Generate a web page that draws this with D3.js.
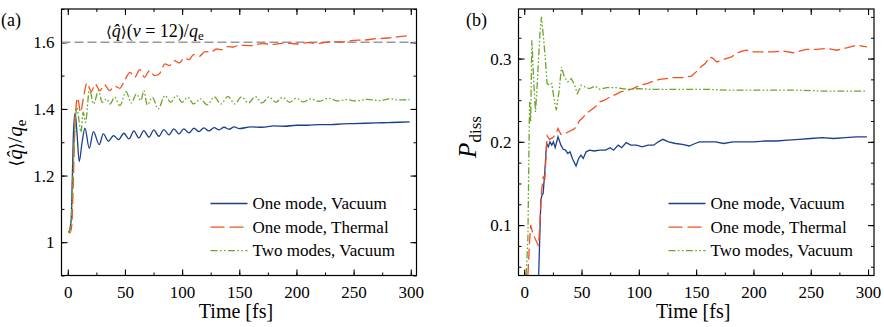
<!DOCTYPE html>
<html>
<head>
  <meta charset="UTF-8">
  <style>
    body { margin: 0; background: #fff; }
  </style>
</head>
<body>
  <svg width="884" height="327">
    <style>
      text, tspan { font-family: "Liberation Serif", serif !important; }
      .m { font-family: "DejaVu Serif", serif !important; }
    </style>
  </svg>

  <script src="https://d3js.org/d3.v7.min.js"></script>
  <script>
    // time axis ticks (both panels)
    const timeTicks = [0, 50, 100, 150, 200, 250, 300];
    const chargeTicks = [1, 1.2, 1.4, 1.6];
    const dissTicks = [0.1, 0.2, 0.3];
    const seriesNames = ['One mode, Vacuum', 'One mode, Thermal', 'Two modes, Vacuum'];
    const chargeRef = 1.6; // <q>(nu=12)/q_e

    // panel (a): [time fs, <q>/q_e]
    const chargeVacuum = [[0.5,1.03],[1.5,1.035],[3,1.07],[4,1.2],[5,1.33],[6.4,1.387],[8,1.33],[10,1.242],[12.5,1.3],[15,1.342],
      [18.8,1.282],[22.4,1.332],[27.5,1.293],[31.1,1.325],[35.5,1.303],[40,1.32],[44.5,1.308],[49,1.327],[53.5,1.31],[57.8,1.334],
      [62.2,1.313],[66.5,1.335],[71,1.315],[75.3,1.337],[79.7,1.318],[84,1.338],[88.5,1.322],[92.8,1.34],[97.2,1.325],[101.5,1.34],
      [106,1.328],[110.3,1.342],[114.7,1.332],[119,1.343],[123.5,1.334],[128,1.344],[132.3,1.337],[136.7,1.345],[141,1.339],[145.5,1.346],
      [150,1.341],[160,1.346],[170,1.345],[180,1.349],[190,1.348],[200,1.351],[210,1.351],[220,1.353],[230,1.353],[240,1.355],
      [250,1.356],[260,1.357],[270,1.358],[280,1.359],[290,1.36],[299,1.361]];
    const chargeThermal = [[0.5,1.03],[2,1.028],[3.5,1.05],[5,1.2],[6.5,1.37],[8.5,1.433],[11.2,1.39],[13.5,1.43],[16.8,1.478],[20.5,1.452],
      [24,1.475],[28,1.455],[32,1.473],[36.5,1.455],[41,1.468],[45.5,1.462],[50,1.488],[54.5,1.51],[58.5,1.495],[63,1.518],
      [67,1.495],[71.5,1.515],[76,1.5],[80,1.505],[85,1.535],[89,1.53],[93,1.545],[97.5,1.538],[102,1.553],[106,1.548],
      [110,1.563],[115,1.558],[120,1.572],[125,1.57],[130,1.58],[135,1.578],[140,1.587],[145,1.586],[150,1.592],[160,1.59],
      [170,1.596],[180,1.594],[190,1.598],[200,1.595],[210,1.599],[220,1.597],[230,1.602],[240,1.601],[250,1.606],[260,1.607],
      [270,1.611],[280,1.613],[290,1.617],[299,1.62]];
    const chargeTwoModes = [[0.5,1.03],[2,1.04],[3.5,1.1],[5,1.25],[6.5,1.36],[8,1.405],[10,1.36],[11.5,1.33],[13.5,1.39],[15.5,1.36],
      [19,1.46],[22.5,1.415],[27,1.455],[30,1.42],[34,1.43],[37,1.415],[41,1.435],[45.5,1.41],[51,1.452],[55.5,1.418],
      [60,1.445],[64,1.425],[66.5,1.455],[69.5,1.412],[74,1.435],[79,1.4],[85,1.44],[90,1.42],[95,1.44],[100,1.42],
      [105,1.435],[110,1.415],[116,1.43],[122,1.412],[128,1.436],[134,1.415],[140,1.438],[146,1.415],[152,1.436],[158,1.418],
      [164,1.437],[170,1.418],[176,1.436],[182,1.42],[188,1.435],[194,1.42],[200,1.432],[206,1.421],[212,1.43],[220,1.423],
      [228,1.432],[236,1.424],[244,1.428],[252,1.424],[262,1.429],[272,1.425],[282,1.43],[290,1.427],[299,1.428]];

    // panel (b): [time fs, P_diss]
    const dissVacuum = [[12.6,0.04],[14.5,0.13],[15.5,0.136],[16.5,0.138],[18,0.165],[19.5,0.198],[21,0.194],[22.5,0.2],[24,0.196],[25.5,0.2],
      [27,0.193],[29.5,0.206],[32,0.196],[34,0.191],[36,0.19],[38,0.186],[40,0.188],[42,0.18],[45.2,0.171],[47.5,0.18],
      [49.5,0.184],[51.5,0.18],[54,0.188],[57,0.19],[61,0.189],[66,0.19],[71,0.19],[75,0.193],[78,0.19],[82,0.196],
      [85,0.193],[89,0.199],[93,0.196],[98,0.196],[103,0.194],[108,0.196],[113,0.196],[117,0.2],[121,0.203],[126,0.2],
      [132,0.198],[138,0.197],[144,0.195],[149,0.198],[153,0.2],[160,0.2],[167,0.2],[174,0.198],[182,0.2],[190,0.2],
      [200,0.2],[210,0.201],[220,0.201],[230,0.202],[240,0.203],[250,0.204],[260,0.205],[270,0.204],[280,0.205],[290,0.206],[299,0.206]];
    const dissThermal = [[3.2,0.04],[4.7,0.081],[5.6,0.1],[7.6,0.09],[9,0.085],[10.5,0.081],[12.5,0.075],[14,0.11],[15,0.14],[16.6,0.158],
      [18,0.156],[20,0.207],[22,0.203],[25,0.205],[28,0.21],[29.4,0.216],[32,0.209],[36,0.21],[40,0.213],[43,0.215],
      [45.5,0.218],[48,0.225],[51,0.229],[55,0.235],[58,0.238],[62,0.242],[66,0.248],[70,0.25],[75,0.254],[80,0.257],
      [84,0.26],[90,0.262],[95,0.264],[101,0.268],[107,0.27],[113,0.273],[118,0.275],[124,0.276],[130,0.277],[138,0.277],
      [146,0.279],[150,0.284],[154,0.29],[158,0.294],[162,0.302],[165,0.3],[168,0.296],[172,0.298],[176,0.3],[181,0.302],
      [185,0.306],[190,0.309],[194,0.31],[200,0.308],[208,0.308],[217,0.308],[226,0.309],[235,0.307],[246,0.311],[255,0.311],
      [264,0.312],[273,0.31],[282,0.313],[290,0.316],[299,0.314]];
    const dissTwoModes = [[1.7,0.04],[3.2,0.084],[4.2,0.2],[4.7,0.248],[5.6,0.224],[6.7,0.322],[8,0.28],[9.8,0.236],[11,0.26],[12.5,0.3],
      [13.7,0.33],[15,0.35],[16.5,0.33],[18.2,0.303],[20,0.27],[22,0.268],[24,0.27],[26,0.252],[28,0.238],[30.5,0.262],
      [32.5,0.29],[35,0.278],[38,0.272],[41,0.276],[44,0.268],[46.3,0.258],[49.8,0.268],[53,0.266],[57,0.264],[62,0.267],
      [66,0.263],[72,0.265],[80,0.265],[90,0.263],[100,0.264],[110,0.263],[125,0.263],[140,0.263],[160,0.263],[180,0.262],
      [200,0.262],[220,0.262],[240,0.262],[260,0.261],[280,0.261],[299,0.261]];

    const colors = ['#1b3f8e', '#f4511e', '#6ba52b'];
    const dashes = [null, '11,4.5', '7,2.2,1.6,2.2,1.6,2.2'];

    const svg = d3.select('svg');

    function drawPanel(p) {
      const g = svg.append('g');
      const x = d3.scaleLinear().domain(p.xDomain).range([p.left, p.right]);
      const y = d3.scaleLinear().domain(p.yDomain).range([p.bottom, p.top]);

      g.append('clipPath').attr('id', 'clip-' + p.id)
        .append('rect')
        .attr('x', p.left).attr('y', p.top)
        .attr('width', p.right - p.left).attr('height', p.bottom - p.top);

      // minor ticks, all four sides, pointing in
      const minorX = d3.range(0, 301, 25);
      const minors = [
        [d3.axisBottom(x).tickValues(minorX), `translate(0,${p.bottom})`],
        [d3.axisTop(x).tickValues(minorX), `translate(0,${p.top})`],
        [d3.axisLeft(y).tickValues(p.minorY), `translate(${p.left},0)`],
        [d3.axisRight(y).tickValues(p.minorY), `translate(${p.right},0)`]
      ];
      minors.forEach(([ax, tr]) => {
        const a = g.append('g').attr('transform', tr).call(ax.tickSize(-3).tickFormat(''));
        a.select('.domain').remove();
        a.selectAll('text').remove();
        a.selectAll('line').attr('stroke', '#000');
      });
      const majors = [
        [d3.axisBottom(x).tickValues(timeTicks), `translate(0,${p.bottom})`],
        [d3.axisTop(x).tickValues(timeTicks), `translate(0,${p.top})`],
        [d3.axisLeft(y).tickValues(p.yTicks), `translate(${p.left},0)`],
        [d3.axisRight(y).tickValues(p.yTicks), `translate(${p.right},0)`]
      ];
      majors.forEach(([ax, tr], i) => {
        const a = g.append('g').attr('transform', tr)
          .call(ax.tickSize(-6).tickPadding(i === 0 ? 10 : 7).tickFormat(i === 0 ? d3.format('d') : p.fmt));
        a.select('.domain').remove();
        a.attr('font-family', null);
        a.selectAll('line').attr('stroke', '#000').attr('stroke-width', 1.1);
        a.selectAll('text').attr('font-size', 17).attr('fill', '#000');
        if (i === 1 || i === 3) a.selectAll('text').remove();
      });

      if (p.refLine != null) {
        g.append('line')
          .attr('x1', p.left).attr('x2', p.right)
          .attr('y1', y(p.refLine)).attr('y2', y(p.refLine))
          .attr('stroke', '#9a9a9a').attr('stroke-width', 1.6).attr('stroke-dasharray', '9,4');
      }

      const line = d3.line().x(d => x(d[0])).y(d => y(d[1])).curve(p.curve);
      p.series.forEach((s, i) => {
        g.append('path')
          .datum(s)
          .attr('clip-path', `url(#clip-${p.id})`)
          .attr('d', line)
          .attr('fill', 'none')
          .attr('stroke', colors[i])
          .attr('stroke-width', 1.3)
          .attr('stroke-dasharray', dashes[i]);
      });

      // legend
      seriesNames.forEach((name, i) => {
        const ly = 203.5 + i * 23.6;
        g.append('line')
          .attr('x1', p.legX).attr('x2', p.legX + 37)
          .attr('y1', ly).attr('y2', ly)
          .attr('stroke', colors[i]).attr('stroke-width', 1.3)
          .attr('stroke-dasharray', i === 1 ? '14,5' : (i === 2 ? '7,2.4,1.6,2.4,1.6,2.4' : null));
        g.append('text')
          .attr('x', p.legX + 42).attr('y', ly + 5.5)
          .attr('font-size', 17)
          .text(name);
      });

      g.append('rect')
        .attr('x', p.left).attr('y', p.top)
        .attr('width', p.right - p.left).attr('height', p.bottom - p.top)
        .attr('fill', 'none').attr('stroke', '#000').attr('stroke-width', 1.2);

      g.append('text')
        .attr('x', (p.left + p.right) / 2 - 3).attr('y', 318)
        .attr('text-anchor', 'middle')
        .attr('font-size', 20)
        .text('Time [fs]');

      g.append('text')
        .attr('x', p.labelX).attr('y', 26)
        .attr('font-size', 18)
        .text(p.label);

      return { g, x, y };
    }

    // (a)
    const a = drawPanel({
      id: 'a', left: 61.5, right: 416.5, top: 9, bottom: 275.5,
      xDomain: [-5.5, 305], yDomain: [0.9, 1.7],
      yTicks: chargeTicks, minorY: d3.range(9, 18).map(v => v / 10),
      fmt: d => (d === 1 ? '1' : d3.format('.1f')(d)),
      series: [chargeVacuum, chargeThermal, chargeTwoModes],
      curve: d3.curveMonotoneX, refLine: chargeRef,
      legX: 210.5, label: '(a)', labelX: 1
    });

    // (b)
    const b = drawPanel({
      id: 'b', left: 518.5, right: 874, top: 9, bottom: 275.5,
      xDomain: [-5, 305.2], yDomain: [0.0395, 0.3595],
      yTicks: dissTicks, minorY: d3.range(2, 15).map(v => v * 0.025),
      fmt: d3.format('.1f'),
      series: [dissVacuum, dissThermal, dissTwoModes],
      curve: d3.curveLinear, refLine: null,
      legX: 668.5, label: '(b)', labelX: 466
    });

    // annotation on the reference line
    const ann = a.g.append('text').attr('x', 106).attr('y', 37).attr('font-size', 18);
    ann.append('tspan').attr('class', 'm').attr('font-size', 15).text('\u27E8');
    ann.append('tspan').attr('font-style', 'italic').text('q\u0302');
    ann.append('tspan').attr('class', 'm').attr('font-size', 15).text('\u27E9');
    ann.append('tspan').text('(');
    ann.append('tspan').attr('font-style', 'italic').text('\u03BD');
    ann.append('tspan').text(' = 12)/');
    ann.append('tspan').attr('font-style', 'italic').text('q');
    ann.append('tspan').attr('dy', 3).attr('font-size', 13).text('e');

    // y labels
    const ya = a.g.append('text')
      .attr('transform', 'translate(22,143) rotate(-90)')
      .attr('text-anchor', 'middle')
      .attr('font-size', 21);
    ya.append('tspan').attr('class', 'm').attr('font-size', 17).text('\u27E8');
    ya.append('tspan').attr('font-style', 'italic').text('q\u0302');
    ya.append('tspan').attr('class', 'm').attr('font-size', 17).text('\u27E9');
    ya.append('tspan').text('/');
    ya.append('tspan').attr('font-style', 'italic').text('q');
    ya.append('tspan').attr('dy', 4).attr('font-size', 15).text('e');

    const yb = b.g.append('text')
      .attr('transform', 'translate(476,137) rotate(-90)')
      .attr('text-anchor', 'middle')
      .attr('font-size', 25);
    yb.append('tspan').attr('font-style', 'italic').text('P');
    yb.append('tspan').attr('dy', 5).attr('font-size', 17).text('diss');
  </script>
</body>
</html>
